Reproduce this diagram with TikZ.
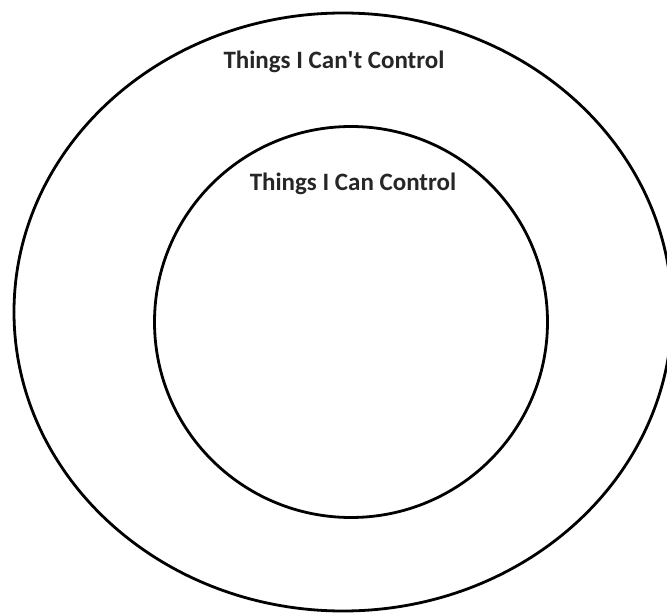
\documentclass[tikz,border=0pt]{standalone}
\usepackage{fontspec}
\setmainfont{Carlito}
\usetikzlibrary{shapes.geometric}

\begin{document}
\begin{tikzpicture}[
    x=1pt, y=-1pt,
    every node/.style={font=\bfseries\fontsize{25}{30}\selectfont},
    ring/.style={ellipse, draw=black, line width=2.8pt, inner sep=0pt},
    tag/.style={anchor=base, text=black!85}
]
\useasboundingbox (0,0) rectangle (667,615);

% Circles
\node[ring, minimum width=658pt, minimum height=598pt] (outer) at (343, 312) {};
\node[ring, minimum width=393pt, minimum height=391pt] (inner) at (351, 322) {};

% Labels
\node[tag] (cantlabel) at (334, 69) {Things I Can\textquotesingle t Control};
\node[tag] (canlabel) at (353, 190) {Things I Can Control};

\end{tikzpicture}
\end{document}
